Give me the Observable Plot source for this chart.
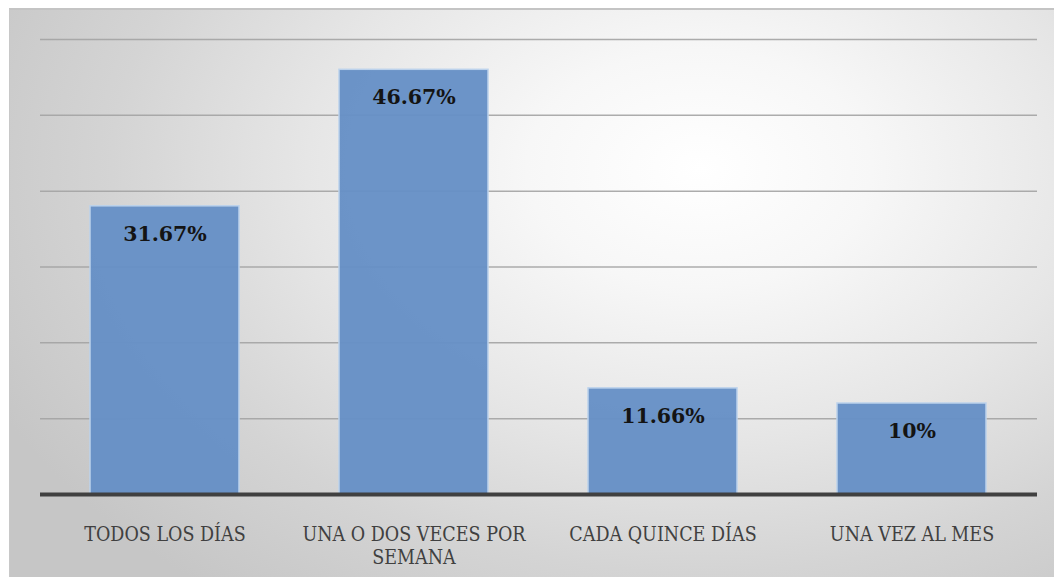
<!DOCTYPE html>
<html>
<head>
<meta charset="utf-8">
<script src="https://cdn.jsdelivr.net/npm/d3@7"></script>
<script src="https://cdn.jsdelivr.net/npm/@observablehq/plot@0.6"></script>
<style>
  html, body { margin: 0; padding: 0; background: #ffffff; }
  #wrap { position: relative; width: 1054px; height: 577px; overflow: hidden; }
  #bg {
    position: absolute; left: 9px; top: 8px; right: 0; bottom: 0;
    border-top: 2px solid #c4c4c4; border-left: 1px solid #c8c8c8;
    background: radial-gradient(ellipse 75% 95% at 66% 28%, #ffffff 0%, #f7f7f7 22%, #e6e6e6 50%, #d4d4d4 75%, #c6c6c6 100%);
  }
  #chart { position: absolute; left: 0; top: 0; }
  #chart svg g.xlab text { font-family: "DejaVu Serif Condensed", "Liberation Serif", serif; }
  #chart svg g.vals text { font-family: "DejaVu Serif", serif; }
</style>
</head>
<body>
<div id="wrap"><div id="bg"></div><div id="chart"></div></div>
<script>
const categories = ["TODOS LOS DÍAS", "UNA O DOS VECES POR SEMANA", "CADA QUINCE DÍAS", "UNA VEZ AL MES"];
const tickLabels = ["TODOS LOS DÍAS", "UNA O DOS VECES POR\nSEMANA", "CADA QUINCE DÍAS", "UNA VEZ AL MES"];
const values = [31.67, 46.67, 11.66, 10];
const valueLabels = ["31.67%", "46.67%", "11.66%", "10%"];
const gridTicks = [8.33, 16.67, 25, 33.33, 41.67, 50];

const data = categories.map((c, i) => ({cat: c, value: values[i], label: valueLabels[i]}));
const labelOf = new Map(categories.map((c, i) => [c, tickLabels[i]]));

const chart = Plot.plot({
  width: 1054,
  height: 577,
  marginLeft: 40,
  marginRight: 17,
  marginTop: 39,
  marginBottom: 83,
  style: {background: "transparent", overflow: "visible", fontFamily: "DejaVu Serif Condensed"},
  x: {domain: categories, paddingInner: 0.4, paddingOuter: 0.2, label: null},
  y: {domain: [0, 50], label: null, axis: null},
  marks: [
    Plot.ruleY(gridTicks, {stroke: "#a3a3a3", strokeWidth: 1.5, strokeOpacity: 0.9}),
    Plot.barY(data, {x: "cat", y: "value", fill: "#6690c6", fillOpacity: 0.96, stroke: "#bcd2ec", strokeWidth: 1.5}),
    Plot.text(data, {x: "cat", y: "value", text: "label", dy: 28, lineAnchor: "middle", className: "vals",
      fontFamily: "DejaVu Serif", fontWeight: "bold", fontSize: 20.5, fill: "#141414"}),
    Plot.ruleY([0], {stroke: "#404040", strokeWidth: 4}),
    Plot.axisX({tickSize: 0, tickPadding: 30, lineHeight: 1.18, tickFormat: d => labelOf.get(d), className: "xlab",
      fontSize: 19.5, fill: "#404040", label: null})
  ]
});
document.getElementById("chart").appendChild(chart);
</script>
</body>
</html>
